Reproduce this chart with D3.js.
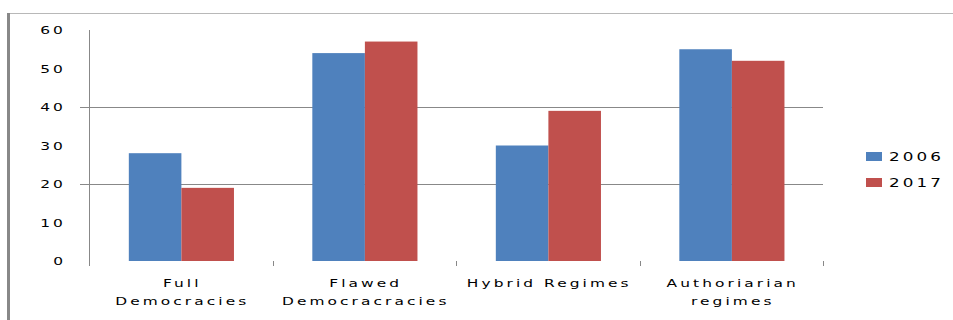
<!DOCTYPE html>
<html>
<head>
<meta charset="utf-8">
<script src="https://cdn.jsdelivr.net/npm/d3@7"></script>
<style>
  html, body { margin: 0; padding: 0; background: #fff; }
  svg { display: block; }
  text { font-family: "DejaVu Sans", Verdana, sans-serif; fill: #000; }
</style>
</head>
<body>
<svg id="chart" width="953" height="320"></svg>
<script>
// Regime types and share of countries per year
const categories = ["Full\nDemocracies", "Flawed\nDemocracracies", "Hybrid Regimes", "Authoriarian\nregimes"];
const seriesNames = ["2006", "2017"];
const values2006 = [28, 54, 30, 55];
const values2017 = [19, 57, 39, 52];
const yTicks = [0, 10, 20, 30, 40, 50, 60];
const gridTicks = [20, 40];
const colors = ["#4F81BD", "#C0504D"];

const series = [values2006, values2017];
const svg = d3.select("#chart");

// outer frame
svg.append("line").attr("x1", 7).attr("x2", 953).attr("y1", 13.5).attr("y2", 13.5)
  .attr("stroke", "#b8b8b8").attr("stroke-width", 1);
svg.append("rect").attr("x", 7).attr("y", 13).attr("width", 3).attr("height", 307)
  .attr("fill", "#888");

const plot = { left: 89, right: 823, top: 30, bottom: 261 };

const x0 = d3.scaleBand().domain(d3.range(categories.length))
  .range([plot.left, plot.right]).padding(0);
const bw = x0.bandwidth();
const x1 = d3.scaleBand().domain(d3.range(seriesNames.length))
  .range([bw * 0.217, bw * 0.79]).padding(0);
const y = d3.scaleLinear().domain([0, 60]).range([plot.bottom, plot.top]);

// horizontal gridlines
svg.append("g").selectAll("line").data(gridTicks).join("line")
  .attr("x1", plot.left - 9).attr("x2", plot.right)
  .attr("y1", d => Math.round(y(d)) + 0.5).attr("y2", d => Math.round(y(d)) + 0.5)
  .attr("stroke", "#888").attr("stroke-width", 1);

// bars
const groups = svg.append("g").selectAll("g").data(categories).join("g")
  .attr("transform", (d, i) => `translate(${x0(i)},0)`);
groups.selectAll("rect")
  .data((d, i) => series.map((s, j) => ({ j, v: s[i] })))
  .join("rect")
  .attr("x", d => x1(d.j))
  .attr("width", x1.bandwidth())
  .attr("y", d => y(d.v))
  .attr("height", d => y(0) - y(d.v))
  .attr("fill", d => colors[d.j]);

// value axis line
svg.append("line").attr("x1", plot.left + 0.5).attr("x2", plot.left + 0.5)
  .attr("y1", plot.top).attr("y2", plot.bottom + 5)
  .attr("stroke", "#888").attr("stroke-width", 1);

// category boundary ticks
const bounds = d3.range(categories.length + 1).map(i => plot.left + i * bw);
svg.append("g").selectAll("line").data(bounds.slice(1)).join("line")
  .attr("x1", d => Math.round(d) + 0.5).attr("x2", d => Math.round(d) + 0.5)
  .attr("y1", plot.bottom).attr("y2", plot.bottom + 5)
  .attr("stroke", "#888").attr("stroke-width", 1);

// wide, airy lettering used for all labels
const sx = 1.4, ls = 2.2;

// y tick labels
svg.append("g").selectAll("text").data(yTicks).join("text")
  .attr("transform", d => `translate(66,${y(d) + 4}) scale(${sx},1)`)
  .attr("text-anchor", "end")
  .attr("font-size", 11)
  .attr("letter-spacing", ls)
  .text(d => d);

// category labels
const catLabels = svg.append("g").selectAll("text").data(categories).join("text")
  .attr("transform", (d, i) => `translate(${x0(i) + bw / 2 + 1.5},287) scale(${sx},1)`)
  .attr("text-anchor", "middle")
  .attr("font-size", 11)
  .attr("letter-spacing", ls);
catLabels.each(function(d) {
  const lines = d.split("\n");
  d3.select(this).selectAll("tspan").data(lines).join("tspan")
    .attr("x", 0).attr("y", (l, k) => k * 18)
    .text(l => l);
});

// legend
const legend = svg.append("g").selectAll("g").data(seriesNames).join("g")
  .attr("transform", (d, i) => `translate(866,${152 + i * 26})`);
legend.append("rect").attr("width", 16).attr("height", 9)
  .attr("fill", (d, i) => colors[i]);
legend.append("text")
  .attr("transform", `translate(23,9) scale(${sx},1)`)
  .attr("font-size", 12)
  .attr("letter-spacing", ls)
  .text(d => d);
</script>
</body>
</html>
